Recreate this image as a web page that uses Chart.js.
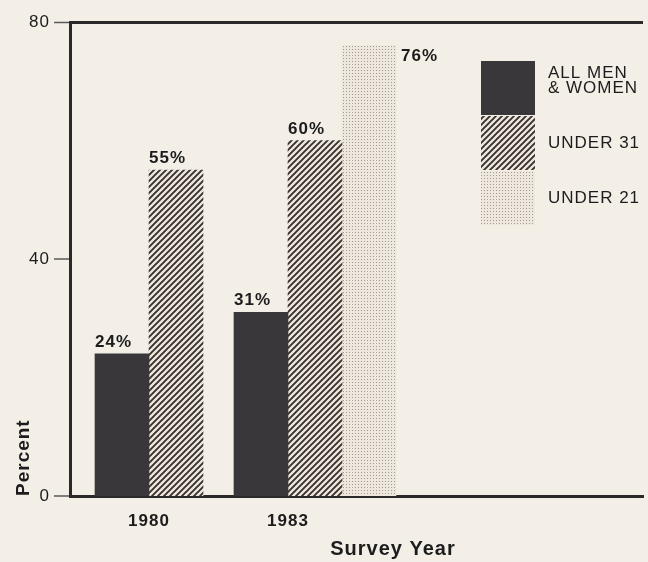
<!DOCTYPE html>
<html>
<head>
<meta charset="utf-8">
<script src="https://cdn.jsdelivr.net/npm/chart.js@4"></script>
<style>
  html, body { margin: 0; padding: 0; background: #f3efe6; }
  #wrap { width: 648px; height: 562px; position: relative; }
</style>
</head>
<body>
<div id="wrap"><canvas id="chart"></canvas></div>
<script>
// data
const years = [1980, 1983];
const allMenWomen = [24, 31];
const under31 = [55, 60];
const under21 = [null, 76];
const legendNames = [['ALL MEN', '& WOMEN'], ['UNDER 31'], ['UNDER 21']];
const yTicks = [0, 40, 80];

const FONT = "'Liberation Sans', Arial, Helvetica, sans-serif";
const INK = '#1c1b1d';
const AXIS = '#2a2829';

// fill patterns (hatch + stipple) like the print
function hatch(bg, fg) {
    const c = document.createElement('canvas');
    c.width = 6; c.height = 6;
    const g = c.getContext('2d');
    g.fillStyle = bg; g.fillRect(0, 0, 6, 6);
    g.strokeStyle = fg; g.lineWidth = 1.9;
    g.beginPath();
    g.moveTo(-1, 7); g.lineTo(7, -1);
    g.moveTo(-1, 1); g.lineTo(1, -1);
    g.moveTo(5, 7); g.lineTo(7, 5);
    g.stroke();
    return g.createPattern(c, 'repeat');
}
function stipple(bg, fg) {
    const c = document.createElement('canvas');
    c.width = 3; c.height = 3;
    const g = c.getContext('2d');
    g.fillStyle = bg; g.fillRect(0, 0, 3, 3);
    g.fillStyle = fg;
    g.fillRect(1, 1, 1, 1);
    return g.createPattern(c, 'repeat');
}

// printed type is tracked out a little
const tracking = {
    id: 'tracking',
    beforeUpdate(chart) { chart.ctx.letterSpacing = '1px'; },
    beforeDraw(chart) { chart.ctx.letterSpacing = '1px'; }
};

// "24%" etc. above each bar, beside it when there is no room
const barLabels = {
    id: 'barLabels',
    afterDatasetsDraw(chart) {
        const { ctx, chartArea } = chart;
        ctx.save();
        ctx.font = 'bold 17px ' + FONT;
        ctx.fillStyle = INK;
        ctx.textAlign = 'left';
        ctx.textBaseline = 'alphabetic';
        chart.data.datasets.forEach((ds, di) => {
            chart.getDatasetMeta(di).data.forEach((bar, i) => {
                const v = ds.data[i];
                if (v == null) return;
                const txt = v + '%';
                if (bar.y - 27 < chartArea.top) {
                    ctx.fillText(txt, bar.x + bar.width / 2 + 5, bar.y + 15);
                } else {
                    ctx.fillText(txt, bar.x - bar.width / 2, bar.y - 7);
                }
            });
        });
        ctx.restore();
    }
};

// block legend in the upper right of the plot
const boxLegend = {
    id: 'boxLegend',
    afterDraw(chart, args, opts) {
        const { ctx } = chart;
        ctx.save();
        ctx.font = '17px ' + FONT;
        ctx.textAlign = 'left';
        ctx.textBaseline = 'middle';
        chart.data.datasets.forEach((ds, i) => {
            const top = opts.y + i * opts.pitch;
            ctx.fillStyle = ds.backgroundColor;
            ctx.fillRect(opts.x, top, opts.box, opts.box);
            const lines = legendNames[i];
            const cy = top + opts.box / 2;
            ctx.fillStyle = INK;
            lines.forEach((ln, k) => {
                ctx.fillText(ln, opts.x + opts.box + 13, cy - (lines.length - 1 - k) * 15);
            });
        });
        ctx.restore();
    }
};

// x axis title sits off-centre in the original
const xTitle = {
    id: 'xTitle',
    afterDraw(chart, args, opts) {
        const { ctx } = chart;
        ctx.save();
        ctx.font = 'bold 20px ' + FONT;
        ctx.fillStyle = INK;
        ctx.textAlign = 'center';
        ctx.textBaseline = 'middle';
        ctx.fillText(opts.text, opts.x, opts.y);
        ctx.restore();
    }
};

const ctx = document.getElementById('chart').getContext('2d');
new Chart(ctx, {
    type: 'bar',
    data: {
        labels: years,
        datasets: [
            { label: legendNames[0].join(' '), data: allMenWomen, backgroundColor: '#3a373b' },
            { label: legendNames[1].join(' '), data: under31, backgroundColor: hatch('#efe7dc', '#36312e') },
            { label: legendNames[2].join(' '), data: under21, backgroundColor: stipple('#ede7dd', '#a39a8f') }
        ]
    },
    plugins: [tracking, barLabels, boxLegend, xTitle],
    options: {
        responsive: true,
        maintainAspectRatio: false,
        animation: false,
        devicePixelRatio: 1,
        layout: { padding: { top: 22, right: 5, left: 8, bottom: 0 } },
        datasets: { bar: { barThickness: 54, borderWidth: 0 } },
        plugins: {
            legend: { display: false },
            tooltip: { enabled: false },
            boxLegend: { x: 481, y: 61, box: 54, pitch: 55 },
            xTitle: { text: 'Survey Year', x: 393, y: 549 }
        },
        scales: {
            x: {
                type: 'linear',
                min: 1977.712,
                max: 1990.08,
                offset: false,
                grid: { display: false, drawTicks: false, offset: false },
                border: { display: true, color: AXIS, width: 3 },
                afterBuildTicks: s => { s.ticks = years.map(v => ({ value: v })); },
                afterFit: s => { s.height = 66; },
                ticks: {
                    callback: v => String(v),
                    labelOffset: -27,
                    padding: 15,
                    maxRotation: 0,
                    color: INK,
                    font: { family: FONT, size: 17, weight: 'bold' }
                }
            },
            y: {
                min: 0,
                max: 80,
                afterBuildTicks: s => { s.ticks = yTicks.map(v => ({ value: v })); },
                afterFit: s => { s.width = 62; },
                grid: {
                    color: c => (c.tick && c.tick.value === 80 ? AXIS : 'rgba(0,0,0,0)'),
                    lineWidth: c => (c.tick && c.tick.value === 80 ? 3 : 0),
                    drawTicks: true,
                    tickLength: 16,
                    tickWidth: 1.5,
                    tickColor: '#5a5858'
                },
                border: { display: true, color: AXIS, width: 3 },
                ticks: {
                    padding: 4,
                    color: INK,
                    font: { family: FONT, size: 17 }
                },
                title: {
                    display: true,
                    text: 'Percent',
                    align: 'start',
                    color: INK,
                    padding: { top: 4, bottom: 4 },
                    font: { family: FONT, size: 19, weight: 'bold' }
                }
            }
        }
    }
});
</script>
</body>
</html>
